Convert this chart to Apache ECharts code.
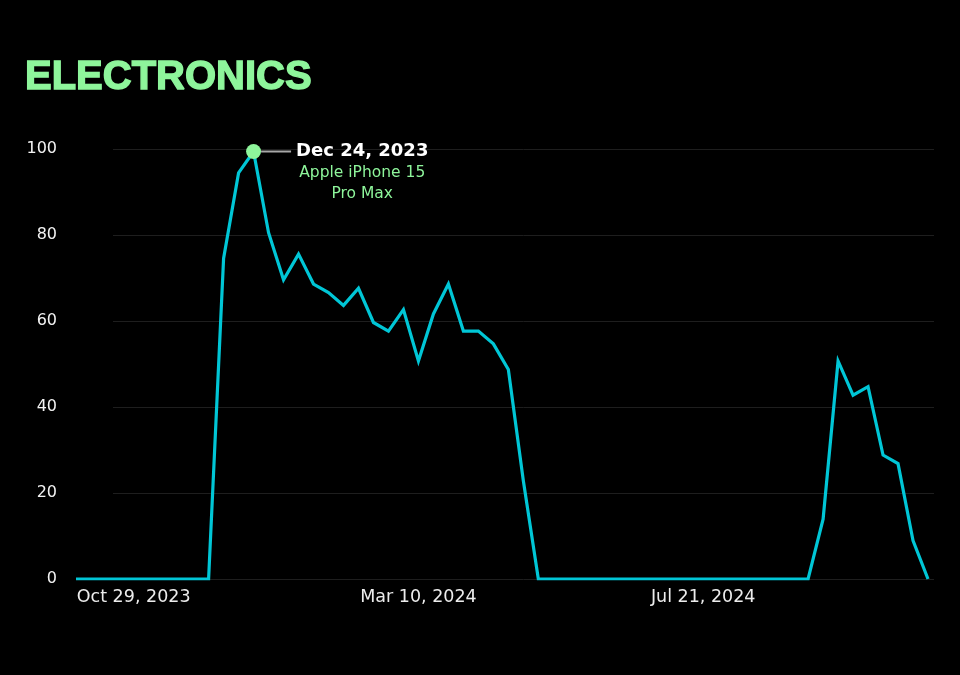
<!DOCTYPE html>
<html>
<head>
<meta charset="utf-8">
<style>
  html, body { margin: 0; padding: 0; background: #000; }
  #chart-container { width: 960px; height: 675px; }
</style>
<script src="https://cdn.jsdelivr.net/npm/echarts@6/dist/echarts.min.js"></script>
</head>
<body>
<div id="chart-container"></div>
<script>
// weekly search interest, Google-Trends style (0-100)
var weeks = [
  '2023-10-01', '2023-10-08', '2023-10-15', '2023-10-22', '2023-10-29', '2023-11-05', '2023-11-12',
  '2023-11-19', '2023-11-26', '2023-12-03', '2023-12-10', '2023-12-17', '2023-12-24', '2023-12-31',
  '2024-01-07', '2024-01-14', '2024-01-21', '2024-01-28', '2024-02-04', '2024-02-11', '2024-02-18',
  '2024-02-25', '2024-03-03', '2024-03-10', '2024-03-17', '2024-03-24', '2024-03-31', '2024-04-07',
  '2024-04-14', '2024-04-21', '2024-04-28', '2024-05-05', '2024-05-12', '2024-05-19', '2024-05-26',
  '2024-06-02', '2024-06-09', '2024-06-16', '2024-06-23', '2024-06-30', '2024-07-07', '2024-07-14',
  '2024-07-21', '2024-07-28', '2024-08-04', '2024-08-11', '2024-08-18', '2024-08-25', '2024-09-01',
  '2024-09-08', '2024-09-15', '2024-09-22', '2024-09-29', '2024-10-06', '2024-10-13', '2024-10-20',
  '2024-10-27', '2024-11-03'
];
var interest = [
  0, 0, 0, 0, 0, 0, 0,
  0, 0, 0, 75, 95, 100, 81,
  70, 76, 69, 67, 64, 68, 60,
  58, 63, 51, 62, 69, 58, 58,
  55, 49, 23, 0, 0, 0, 0,
  0, 0, 0, 0, 0, 0, 0,
  0, 0, 0, 0, 0, 0, 0,
  0, 14, 51, 43, 45, 29, 27,
  9, 0
];
var tickDates = ['2023-10-29', '2024-03-10', '2024-07-21'];
var axisStart = '2023-10-03';
var axisEnd = '2024-11-03';
var yTicks = [0, 20, 40, 60, 80, 100];
var chartTitle = 'ELECTRONICS';
var peakProduct = ['Apple iPhone 15', 'Pro Max'];

var MONTHS = ['Jan', 'Feb', 'Mar', 'Apr', 'May', 'Jun', 'Jul', 'Aug', 'Sep', 'Oct', 'Nov', 'Dec'];

function toTime(s) {
  var p = s.split('-');
  return new Date(+p[0], +p[1] - 1, +p[2]).getTime();
}
function fmtDate(t) {
  var d = new Date(t);
  return MONTHS[d.getMonth()] + ' ' + d.getDate() + ', ' + d.getFullYear();
}

var seriesData = weeks.map(function (w, i) {
  return [toTime(w), interest[i]];
});
var peakIdx = interest.indexOf(Math.max.apply(null, interest));

var dom = document.getElementById('chart-container');
var myChart = echarts.init(dom, null, { renderer: 'canvas' });

var option = {
  backgroundColor: '#000',
  animation: false,
  title: {
    text: chartTitle,
    left: 25,
    top: 58,
    padding: 0,
    textStyle: {
      fontFamily: 'Liberation Sans',
      fontWeight: 'bold',
      fontSize: 40,
      lineHeight: 40,
      color: '#8ef59b',
      textBorderColor: '#8ef59b',
      textBorderWidth: 1.4
    }
  },
  grid: [
    // line area
    { left: 78, right: 32, top: 151.5, bottom: 96 },
    // gridline / y label area
    { left: 113, right: 26, top: 149, bottom: 96 }
  ],
  xAxis: [
    {
      type: 'value',
      gridIndex: 0,
      min: toTime(axisStart),
      max: toTime(axisEnd),
      axisLine: { show: false },
      axisTick: { show: false },
      splitLine: { show: false },
      axisLabel: {
        customValues: tickDates.map(toTime),
        formatter: function (v) { return fmtDate(v); },
        color: '#ececec',
        fontFamily: 'DejaVu Sans',
        fontSize: 17.5,
        margin: 9
      }
    },
    { type: 'value', gridIndex: 1, show: false, min: 0, max: 1 }
  ],
  yAxis: [
    { type: 'value', gridIndex: 0, min: 0, max: 100, show: false },
    {
      type: 'value',
      gridIndex: 1,
      min: yTicks[0],
      max: yTicks[yTicks.length - 1],
      interval: yTicks[1] - yTicks[0],
      axisLine: { show: false },
      axisTick: { show: false },
      splitLine: { lineStyle: { color: '#1e1e1e', width: 1 } },
      axisLabel: {
        color: '#f2f2f2',
        fontFamily: 'DejaVu Sans',
        fontSize: 16,
        margin: 56
      }
    }
  ],
  series: [
    {
      type: 'line',
      xAxisIndex: 0,
      yAxisIndex: 0,
      data: seriesData,
      symbol: 'none',
      clip: true,
      z: 3,
      lineStyle: { color: '#00c6d6', width: 3.2, join: 'miter' },
      markPoint: {
        symbol: 'circle',
        symbolSize: 15,
        itemStyle: { color: '#8ef59b' },
        data: [{ coord: seriesData[peakIdx] }],
        label: {
          show: true,
          position: 'right',
          distance: 0,
          offset: [0, 21],
          formatter: function () {
            return '{dash|}{gap|}{date|' + fmtDate(seriesData[peakIdx][0]) + '}\n' +
              '{pad|}{name|' + peakProduct[0] + '}\n' +
              '{pad|}{name|' + peakProduct[1] + '}';
          },
          rich: {
            dash: { width: 30, height: 2, backgroundColor: '#a8a8a8', lineHeight: 22 },
            gap: { width: 5, lineHeight: 22 },
            pad: { width: 35, lineHeight: 21 },
            date: {
              color: '#ffffff',
              fontFamily: 'DejaVu Sans',
              fontWeight: 'bold',
              fontSize: 18,
              lineHeight: 22
            },
            name: {
              color: '#8ef59b',
              fontFamily: 'DejaVu Sans',
              fontSize: 15.5,
              lineHeight: 21,
              align: 'center'
            }
          }
        }
      }
    }
  ]
};

myChart.setOption(option);

window.addEventListener('resize', myChart.resize);
</script>
</body>
</html>
